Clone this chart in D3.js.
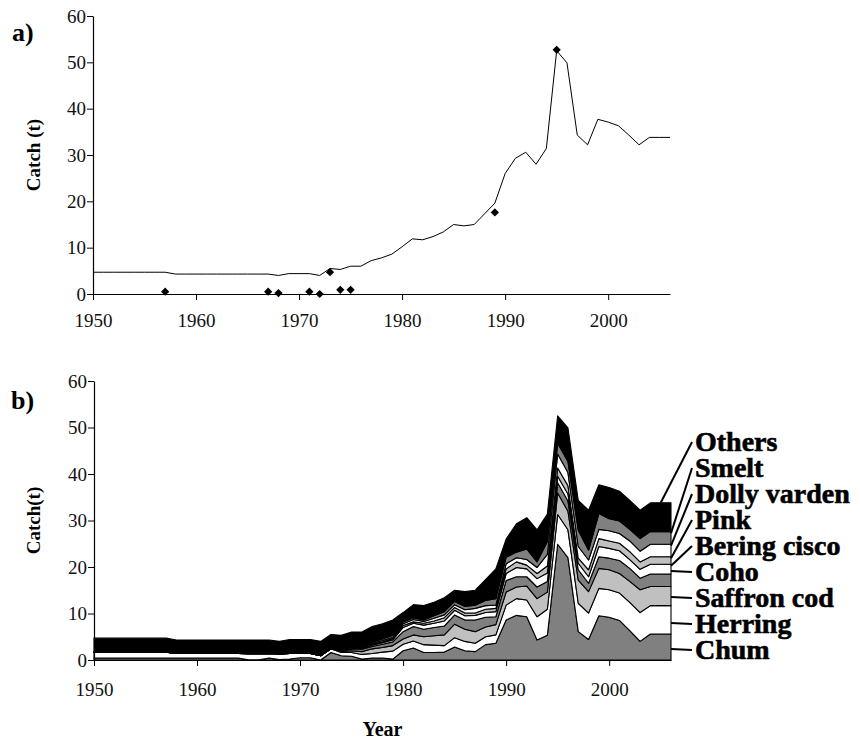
<!DOCTYPE html>
<html>
<head>
<meta charset="utf-8">
<script src="https://cdn.jsdelivr.net/npm/d3@7"></script>
<style>
  body { margin: 0; background: #fff; }
  svg { display: block; }
</style>
</head>
<body>
<div id="chart"></div>
<script>
// years on the category axis
const years = d3.range(1950, 2007);
const xTicks = [1950, 1960, 1970, 1980, 1990, 2000];
const yTicks = [0, 10, 20, 30, 40, 50, 60];

// a) total catch (t), 1950-2006
const totalCatch = [
  4.7, 4.7, 4.7, 4.7, 4.7, 4.7, 4.7, 4.7,
  4.3, 4.3, 4.3, 4.3, 4.3, 4.3, 4.3, 4.3, 4.3, 4.3,
  4.0, 4.4, 4.4, 4.4, 4.0,
  5.5, 5.3, 6.0, 6.0, 7.2, 7.8, 8.6,
  10.2, 11.9, 11.7, 12.4, 13.4, 15.0, 14.7, 15.0, 17.3, 19.6,
  26.0, 29.3, 30.6, 28.0, 31.4, 52.5, 49.9, 34.3, 32.2, 37.7,
  37.1, 36.3, 34.3, 32.2, 33.8, 33.8, 33.8
];

// a) observed points
const obsYears = [1957, 1967, 1968, 1971, 1972, 1973, 1974, 1975, 1989, 1995];
const obsValues = [0.5, 0.5, 0.2, 0.5, 0.0, 4.7, 0.9, 0.9, 17.6, 52.7];

// b) catch by species (t), 1950-2006
const chum = [
  0.4, 0.4, 0.4, 0.4, 0.4, 0.4, 0.4, 0.4,
  0.4, 0.4, 0.4, 0.4, 0.4, 0.4, 0.4,
  0.05, 0.05, 0.4, 0.1, 0.2, 0.5, 0.5, 0,
  1.6, 0.9, 0.8, 0.2, 0.4, 0.4, 0.2,
  2.0, 2.6, 1.6, 1.6, 1.7, 2.8, 2.0, 1.8, 3.3, 3.6,
  8.6, 9.6, 9.3, 4.3, 5.3, 24.9, 22.0, 6.1, 4.4, 9.5,
  9.2, 8.5, 6.3, 4.0, 5.6, 5.6, 5.6
];
const herring = [
  1.3, 1.3, 1.3, 1.3, 1.3, 1.3, 1.3, 1.3,
  1.0, 1.0, 1.0, 1.0, 1.0, 1.0, 1.0,
  1.3, 1.3, 1.0, 1.2, 1.2, 0.9, 0.9, 0.9,
  0.8, 0.7, 0.8, 1.0, 1.0, 1.3, 1.7,
  1.4, 1.5, 1.7, 1.6, 1.4, 2.0, 2.0, 1.8, 1.7, 1.8,
  3.2, 3.6, 3.6, 5.0, 5.6, 6.4, 6.0, 6.1, 5.7, 5.9,
  5.9, 5.9, 6.1, 6.2, 6.1, 6.1, 6.1
];
const saffronCod = [
  0, 0, 0, 0, 0, 0, 0, 0,
  0, 0, 0, 0, 0, 0, 0,
  0, 0, 0, 0, 0, 0, 0, 0,
  0, 0.2, 0.4, 0.6, 1.0, 1.0, 1.2,
  1.1, 1.3, 1.7, 2.0, 2.3, 2.9, 2.6, 2.5, 2.1, 2.2,
  2.8, 2.5, 3.0, 3.9, 3.7, 4.6, 4.0, 5.0, 4.6, 4.3,
  4.3, 4.2, 4.5, 4.9, 4.1, 4.1, 4.1
];
const coho = [
  0, 0, 0, 0, 0, 0, 0, 0,
  0, 0, 0, 0, 0, 0, 0,
  0, 0, 0, 0, 0, 0, 0, 0,
  0, 0.2, 0.3, 0.5, 0.5, 0.7, 0.8,
  1.6, 1.8, 1.6, 1.8, 1.9, 2.0, 2.0, 2.5, 2.1, 1.7,
  2.5, 2.2, 2.0, 2.5, 2.3, 2.2, 2.2, 2.2, 1.8, 2.5,
  2.5, 2.8, 2.8, 2.5, 2.7, 2.7, 2.7
];
const beringCisco = [
  0, 0, 0, 0, 0, 0, 0, 0,
  0, 0, 0, 0, 0, 0, 0,
  0, 0, 0, 0, 0, 0, 0, 0,
  0, 0.1, 0.2, 0.2, 0.3, 0.3, 0.4,
  0.9, 0.7, 0.9, 0.9, 1.1, 1.0, 0.9, 1.0, 1.0, 1.1,
  1.5, 2.0, 1.7, 1.8, 1.8, 1.4, 1.5, 1.4, 1.4, 2.2,
  2.1, 2.1, 1.9, 1.9, 2.1, 2.1, 2.1
];
const pink = [
  0, 0, 0, 0, 0, 0, 0, 0,
  0, 0, 0, 0, 0, 0, 0,
  0, 0, 0, 0, 0, 0, 0, 0,
  0, 0.1, 0.1, 0.2, 0.2, 0.2, 0.3,
  0.4, 0.3, 0.4, 0.5, 0.7, 0.6, 0.6, 0.5, 0.7, 0.7,
  1.0, 1.2, 0.8, 1.1, 1.5, 1.8, 1.8, 1.1, 1.5, 1.7,
  1.6, 1.6, 1.7, 1.6, 1.6, 1.6, 1.6
];
const dollyVarden = [
  0, 0, 0, 0, 0, 0, 0, 0,
  0, 0, 0, 0, 0, 0, 0,
  0, 0, 0, 0, 0, 0, 0, 0,
  0, 0.1, 0.2, 0.2, 0.2, 0.3, 0.3,
  0.4, 0.5, 0.4, 0.6, 0.6, 0.6, 0.7, 1.0, 0.8, 0.7,
  1.1, 0.9, 1.2, 1.3, 2.5, 3.0, 2.8, 2.5, 2.1, 2.0,
  2.2, 2.1, 2.3, 2.3, 2.7, 2.7, 2.7
];
const smelt = [
  0, 0, 0, 0, 0, 0, 0, 0,
  0, 0, 0, 0, 0, 0, 0,
  0, 0, 0, 0, 0, 0, 0, 0,
  0, 0.1, 0.1, 0.2, 0.3, 0.3, 0.4,
  0.4, 0.4, 0.3, 0.5, 0.7, 0.7, 0.7, 0.7, 1.1, 1.4,
  1.4, 1.2, 2.3, 1.2, 2.8, 2.3, 2.4, 3.5, 2.1, 3.4,
  2.6, 2.7, 2.5, 2.7, 2.7, 2.7, 2.7
];
const others = [
  3.0, 3.0, 3.0, 3.0, 3.0, 3.0, 3.0, 3.0,
  2.9, 2.9, 2.9, 2.9, 2.9, 2.9, 2.9,
  2.95, 2.95, 2.9, 2.7, 3.0, 3.0, 3.0, 3.1,
  3.1, 2.9, 3.1, 2.9, 3.3, 3.3, 3.3,
  2.0, 2.8, 3.1, 2.9, 3.0, 2.4, 3.2, 3.2, 4.5, 6.4,
  3.9, 6.1, 6.7, 6.9, 5.9, 5.9, 7.2, 6.4, 8.6, 6.2,
  6.7, 6.4, 6.2, 6.1, 6.2, 6.2, 6.2
];

// stacking order, bottom to top
const species = ["Chum", "Herring", "Saffron cod", "Coho", "Bering cisco", "Pink", "Dolly varden", "Smelt", "Others"];
const speciesData = [chum, herring, saffronCod, coho, beringCisco, pink, dollyVarden, smelt, others];
const speciesFill = ["#808080", "#ffffff", "#c0c0c0", "#808080", "#ffffff", "#c0c0c0", "#ffffff", "#808080", "#000000"];

const W = 860, H = 740;
const font = '"Liberation Serif", "Times New Roman", serif';

const svg = d3.select("#chart").append("svg")
  .attr("width", W)
  .attr("height", H)
  .style("font-family", font);

svg.append("rect").attr("width", W).attr("height", H).attr("fill", "#fff");

function drawAxes(x, y, yBase, xPad) {
  const gx = svg.append("g")
    .attr("transform", `translate(0,${yBase})`)
    .call(d3.axisBottom(x).tickValues(xTicks).tickFormat(d3.format("d"))
      .tickSize(6).tickSizeOuter(0).tickPadding(xPad));
  const gy = svg.append("g")
    .attr("transform", `translate(${x.range()[0]},0)`)
    .call(d3.axisLeft(y).tickValues(yTicks).tickSize(6).tickSizeOuter(0).tickPadding(1));
  [gx, gy].forEach(g => {
    g.select(".domain").attr("stroke", "#000").attr("stroke-width", 1.2);
    g.selectAll(".tick line").attr("stroke", "#000").attr("stroke-width", 1);
    g.selectAll(".tick text")
      .attr("fill", "#111")
      .style("font-family", font)
      .style("font-size", "19px");
  });
}

// ---------- a) ----------
const xA = d3.scaleLinear().domain([1950, 2006]).range([93, 670]);
const yA = d3.scaleLinear().domain([0, 60]).range([294, 16]);

drawAxes(xA, yA, 294, 14);

const line = d3.line()
  .x((d, i) => xA(years[i]))
  .y(d => yA(d));

svg.append("path")
  .datum(totalCatch)
  .attr("d", line)
  .attr("fill", "none")
  .attr("stroke", "#000")
  .attr("stroke-width", 1);

svg.selectAll(".obs")
  .data(obsYears)
  .enter()
  .append("path")
  .attr("class", "obs")
  .attr("d", d3.symbol(d3.symbolSquare, 34))
  .attr("transform", (d, i) => `translate(${xA(d)},${yA(obsValues[i])}) rotate(45)`)
  .attr("fill", "#000");

svg.append("text")
  .attr("x", 12).attr("y", 41)
  .text("a)")
  .style("font-size", "26px").style("font-weight", "bold");

svg.append("text")
  .attr("transform", `translate(40,${(16 + 294) / 2}) rotate(-90)`)
  .attr("text-anchor", "middle")
  .text("Catch (t)")
  .style("font-size", "19px").style("font-weight", "bold");

// ---------- b) ----------
const xB = d3.scaleLinear().domain([1950, 2006]).range([94, 671]);
const yB = d3.scaleLinear().domain([0, 60]).range([660, 381]);

const rows = years.map((yr, i) => {
  const r = { year: yr };
  species.forEach((s, k) => { r[s] = speciesData[k][i]; });
  return r;
});

const stacked = d3.stack().keys(species)(rows);

const area = d3.area()
  .x(d => xB(d.data.year))
  .y0(d => yB(d[0]))
  .y1(d => yB(d[1]));

svg.append("g")
  .selectAll("path")
  .data(stacked)
  .enter()
  .append("path")
  .attr("d", area)
  .attr("fill", (d, i) => speciesFill[i])
  .attr("stroke", "#000")
  .attr("stroke-width", 1.1)
  .attr("stroke-linejoin", "round");

drawAxes(xB, yB, 660, 17);

svg.append("text")
  .attr("x", 11).attr("y", 409)
  .text("b)")
  .style("font-size", "26px").style("font-weight", "bold");

svg.append("text")
  .attr("transform", `translate(40,${(381 + 660) / 2}) rotate(-90)`)
  .attr("text-anchor", "middle")
  .text("Catch(t)")
  .style("font-size", "19px").style("font-weight", "bold");

svg.append("text")
  .attr("x", (94 + 671) / 2).attr("y", 736)
  .attr("text-anchor", "middle")
  .text("Year")
  .style("font-size", "20px").style("font-weight", "bold");

// legend labels with leader lines
const last = years.length - 1;
const labelX = 695;
const legend = svg.append("g");
species.slice().reverse().forEach((s, j) => {
  const k = species.length - 1 - j;
  const ly = 441 + j * 26;
  let tx, ty;
  if (s === "Others") {
    tx = xB(years[last - 1]);
    ty = yB(stacked[k][last - 1][1]);
  } else if (k >= 4) {
    tx = xB(years[last]);
    ty = yB(stacked[k][last][1]) + 1.5;
  } else {
    tx = xB(years[last]);
    ty = ly;
  }
  legend.append("line")
    .attr("x1", labelX - 3).attr("y1", ly + 1)
    .attr("x2", tx).attr("y2", ty)
    .attr("stroke", "#000").attr("stroke-width", 2);
  legend.append("text")
    .attr("x", labelX).attr("y", ly)
    .attr("dy", "0.35em")
    .text(s)
    .attr("fill", "#000")
    .attr("stroke", "#000")
    .attr("stroke-width", 0.6)
    .style("font-size", "28px").style("font-weight", "bold");
});
</script>
</body>
</html>
